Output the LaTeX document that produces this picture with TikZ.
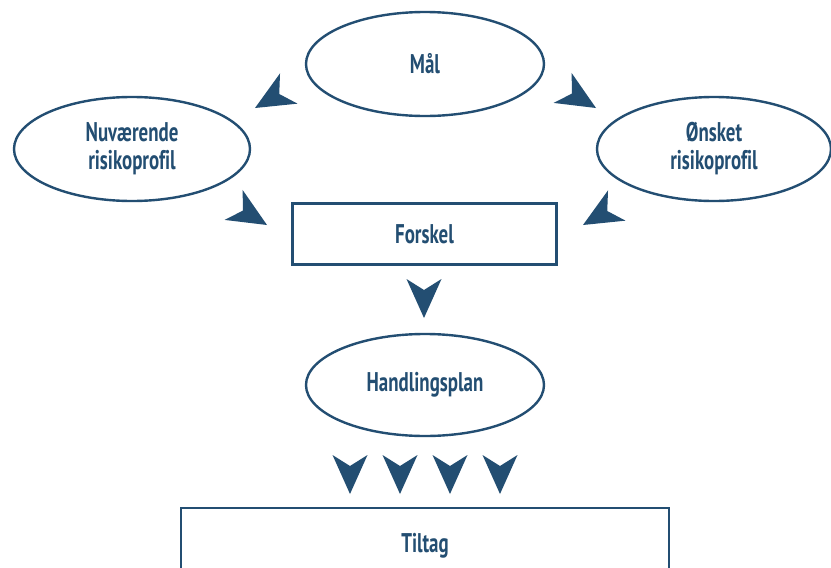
\documentclass[tikz,border=0pt]{standalone}
\usepackage{fontspec}
\setmainfont{PT Sans}[FakeStretch=0.70, Ligatures=NoCommon]
\usetikzlibrary{shapes.geometric}
\definecolor{navy}{HTML}{234E72}
\tikzset{
  every node/.style={text=navy, font=\bfseries\fontsize{27}{28}\selectfont, align=center},
  oval/.style={ellipse, draw=navy, line width=2.4pt, inner sep=0pt},
  box/.style={rectangle, draw=navy, line width=2.4pt, inner sep=0pt},
  chev/.pic={\fill[navy] (0,0) -- (-39,17.5) -- (-28,0) -- (-39,-17.5) -- cycle;}
}
\begin{document}
\begin{tikzpicture}[x=1pt,y=-1pt]
\clip (0,0) rectangle (831,568);
\fill[white] (0,0) rectangle (831,568);

% goals and risk profiles
\node[oval, minimum width=238pt, minimum height=104pt] (maal) at (425,64) {Mål};
\node[oval, minimum width=236pt, minimum height=104pt] (naa) at (132,149) {Nuværende\\risikoprofil};
\node[oval, minimum width=234pt, minimum height=104pt] (onsk) at (714,149) {Ønsket\\risikoprofil};

% gap and plan
\node[box, minimum width=264pt, minimum height=61pt] (forskel) at (424.5,234) {Forskel};
\node[oval, minimum width=238pt, minimum height=102pt] (plan) at (425,385) {Handlingsplan};

% measures
\node[box, minimum width=488pt, minimum height=76pt] (tiltag) at (425,546) {Tiltag};

% arrowheads
\pic[rotate=210] at (255,108) {chev};
\pic[rotate=-31] at (596,108) {chev};
\pic[rotate=-31] at (267,225) {chev};
\pic[rotate=210] at (583,225) {chev};
\pic[rotate=-90] at (424,318) {chev};
\foreach \x in {350,400,450,500}
  \pic[rotate=-90] at (\x,494) {chev};
\end{tikzpicture}
\end{document}
